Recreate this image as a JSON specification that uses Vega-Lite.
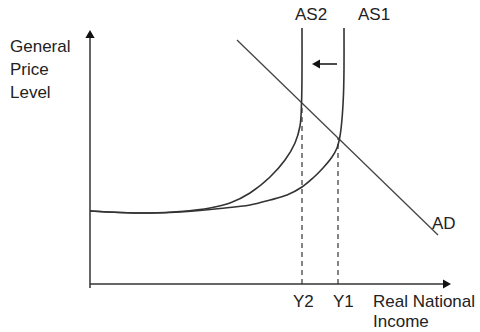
{
  "$schema": "https://vega.github.io/schema/vega-lite/v6.json",
  "width": 480,
  "height": 332,
  "autosize": "none",
  "padding": 0,
  "background": "white",
  "config": {"view": {"stroke": null}},
  "datasets": {
    "curves": [
      {"curve": "AS2", "i": 1, "income": 0, "price": 73},
      {"curve": "AS2", "i": 2, "income": 30, "price": 71.5},
      {"curve": "AS2", "i": 3, "income": 60, "price": 71},
      {"curve": "AS2", "i": 4, "income": 90, "price": 72.5},
      {"curve": "AS2", "i": 5, "income": 120, "price": 76},
      {"curve": "AS2", "i": 6, "income": 140, "price": 81},
      {"curve": "AS2", "i": 7, "income": 160, "price": 91},
      {"curve": "AS2", "i": 8, "income": 180, "price": 107},
      {"curve": "AS2", "i": 9, "income": 195, "price": 124},
      {"curve": "AS2", "i": 10, "income": 205, "price": 141},
      {"curve": "AS2", "i": 11, "income": 210, "price": 158},
      {"curve": "AS2", "i": 12, "income": 211.5, "price": 180},
      {"curve": "AS2", "i": 13, "income": 212, "price": 210},
      {"curve": "AS2", "i": 14, "income": 212, "price": 256},
      {"curve": "AS1", "i": 1, "income": 0, "price": 73},
      {"curve": "AS1", "i": 2, "income": 30, "price": 71.5},
      {"curve": "AS1", "i": 3, "income": 60, "price": 71},
      {"curve": "AS1", "i": 4, "income": 90, "price": 72},
      {"curve": "AS1", "i": 5, "income": 130, "price": 75.5},
      {"curve": "AS1", "i": 6, "income": 160, "price": 79},
      {"curve": "AS1", "i": 7, "income": 180, "price": 84},
      {"curve": "AS1", "i": 8, "income": 197, "price": 89},
      {"curve": "AS1", "i": 9, "income": 212, "price": 97},
      {"curve": "AS1", "i": 10, "income": 223, "price": 106},
      {"curve": "AS1", "i": 11, "income": 233, "price": 116},
      {"curve": "AS1", "i": 12, "income": 242, "price": 127},
      {"curve": "AS1", "i": 13, "income": 247, "price": 136},
      {"curve": "AS1", "i": 14, "income": 250, "price": 148},
      {"curve": "AS1", "i": 15, "income": 252, "price": 165},
      {"curve": "AS1", "i": 16, "income": 253.5, "price": 190},
      {"curve": "AS1", "i": 17, "income": 254, "price": 215},
      {"curve": "AS1", "i": 18, "income": 254, "price": 256}
    ],
    "axes": [
      {"x": 0, "y": -4, "x2": 0, "y2": 248},
      {"x": 0, "y": 0, "x2": 354, "y2": 0}
    ],
    "dashed": [
      {"x": 212, "y": 0, "x2": 212, "y2": 181},
      {"x": 248, "y": 0, "x2": 248, "y2": 146}
    ],
    "ad": [
      {"x": 147, "y": 244, "x2": 348, "y2": 49}
    ],
    "shift": [
      {"x": 247, "y": 220, "x2": 230, "y2": 220}
    ],
    "heads": [
      {"x": 0, "y": 250, "dir": "up"},
      {"x": 357, "y": 0, "dir": "right"},
      {"x": 226, "y": 220, "dir": "left"}
    ],
    "labels": [
      {"label": "General", "x": -80, "y": 232},
      {"label": "Price", "x": -80, "y": 209},
      {"label": "Level", "x": -80, "y": 186},
      {"label": "AS2", "x": 205, "y": 264},
      {"label": "AS1", "x": 268, "y": 264},
      {"label": "AD", "x": 342, "y": 55},
      {"label": "Y2", "x": 203, "y": -22.7},
      {"label": "Y1", "x": 243, "y": -22.7},
      {"label": "Real National", "x": 283, "y": -22.7},
      {"label": "Income", "x": 283, "y": -43}
    ]
  },
  "layer": [
    {
      "data": {"name": "axes"},
      "mark": {"type": "rule", "color": "#333333", "strokeWidth": 1.5},
      "encoding": {
        "x": {"field": "x", "type": "quantitative", "scale": {"domain": [-90, 390], "nice": false, "zero": false}, "axis": null},
        "y": {"field": "y", "type": "quantitative", "scale": {"domain": [-48, 284], "nice": false, "zero": false}, "axis": null},
        "x2": {"field": "x2"},
        "y2": {"field": "y2"}
      }
    },
    {
      "data": {"name": "dashed"},
      "mark": {"type": "rule", "color": "#333333", "strokeWidth": 1.2, "strokeDash": [5, 4]},
      "encoding": {
        "x": {"field": "x", "type": "quantitative", "scale": {"domain": [-90, 390], "nice": false, "zero": false}, "axis": null},
        "y": {"field": "y", "type": "quantitative", "scale": {"domain": [-48, 284], "nice": false, "zero": false}, "axis": null},
        "x2": {"field": "x2"},
        "y2": {"field": "y2"}
      }
    },
    {
      "data": {"name": "ad"},
      "mark": {"type": "rule", "color": "#444444", "strokeWidth": 1.3},
      "encoding": {
        "x": {"field": "x", "type": "quantitative", "scale": {"domain": [-90, 390], "nice": false, "zero": false}, "axis": null},
        "y": {"field": "y", "type": "quantitative", "scale": {"domain": [-48, 284], "nice": false, "zero": false}, "axis": null},
        "x2": {"field": "x2"},
        "y2": {"field": "y2"}
      }
    },
    {
      "data": {"name": "shift"},
      "mark": {"type": "rule", "color": "#111111", "strokeWidth": 1.5},
      "encoding": {
        "x": {"field": "x", "type": "quantitative", "scale": {"domain": [-90, 390], "nice": false, "zero": false}, "axis": null},
        "y": {"field": "y", "type": "quantitative", "scale": {"domain": [-48, 284], "nice": false, "zero": false}, "axis": null},
        "x2": {"field": "x2"},
        "y2": {"field": "y2"}
      }
    },
    {
      "data": {"name": "curves"},
      "mark": {"type": "line", "color": "#333333", "strokeWidth": 1.6, "interpolate": "catmull-rom"},
      "encoding": {
        "x": {"field": "income", "type": "quantitative", "scale": {"domain": [-90, 390], "nice": false, "zero": false}, "axis": null},
        "y": {"field": "price", "type": "quantitative", "scale": {"domain": [-48, 284], "nice": false, "zero": false}, "axis": null},
        "detail": {"field": "curve", "type": "nominal"},
        "order": {"field": "i", "type": "quantitative"}
      }
    },
    {
      "data": {"name": "heads"},
      "mark": {"type": "point", "filled": true, "color": "#111111", "opacity": 1, "size": 85},
      "encoding": {
        "x": {"field": "x", "type": "quantitative", "scale": {"domain": [-90, 390], "nice": false, "zero": false}, "axis": null},
        "y": {"field": "y", "type": "quantitative", "scale": {"domain": [-48, 284], "nice": false, "zero": false}, "axis": null},
        "shape": {"field": "dir", "type": "nominal", "scale": {"domain": ["up", "right", "left"], "range": ["triangle-up", "triangle-right", "triangle-left"]}, "legend": null}
      }
    },
    {
      "data": {"name": "labels"},
      "mark": {"type": "text", "align": "left", "baseline": "alphabetic", "font": "Liberation Sans", "fontSize": 17, "color": "#222222"},
      "encoding": {
        "x": {"field": "x", "type": "quantitative", "scale": {"domain": [-90, 390], "nice": false, "zero": false}, "axis": null},
        "y": {"field": "y", "type": "quantitative", "scale": {"domain": [-48, 284], "nice": false, "zero": false}, "axis": null},
        "text": {"field": "label", "type": "nominal"}
      }
    }
  ]
}
